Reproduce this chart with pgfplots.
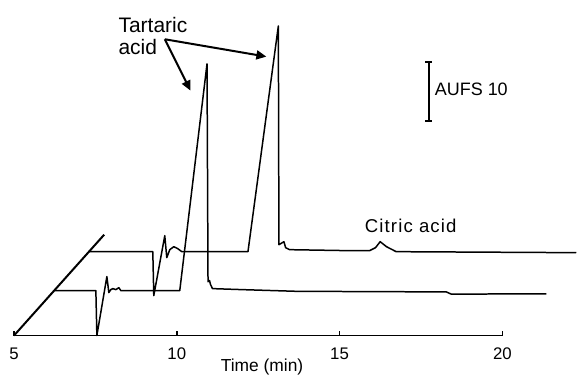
\documentclass[border=0pt]{standalone}
\usepackage{fontspec}
\setmainfont{Liberation Sans}
\usepackage{pgfplots}
\pgfplotsset{compat=1.18}
\usetikzlibrary{arrows.meta}
\begin{document}
\begin{tikzpicture}
\begin{axis}[
 x=16.3pt, y=0.5pt,
 xmin=5, xmax=20, ymin=0, ymax=336,
 clip=false,
 axis x line*=bottom, axis y line=none,
 xtick={5,10,15,20},
 ytick=\empty,
 tick align=inside,
 major tick length=2.5pt,
 x axis line style={line width=0.8pt},
 xtick style={line width=0.8pt, black},
 xticklabel style={font=\fontsize{8.4}{10}\selectfont, yshift=-2.5pt},
 /pgf/number format/assume math mode=true,
]
% offset baseline (diagonal)
\addplot[black, line width=1pt] coordinates {(5,0) (7.77,101)};
% lower trace
\addplot[black, line width=0.75pt, line join=round] coordinates {
(6.23,45) (7.515,45) (7.546,0) (7.853,59) (7.914,43) (7.975,46) (8.037,47)
(8.129,46) (8.221,48) (8.282,45) (10.092,45) (10.929,272) (10.960,54)
(11.006,55) (11.037,51) (11.098,47) (12.0,46) (13.68,44.3) (18.28,43.7)
(18.43,41.5) (21.35,41.8)};
% upper trace
\addplot[black, line width=0.75pt, line join=round] coordinates {
(7.316,84) (9.264,84) (9.294,40) (9.632,100) (9.693,78) (9.785,86) (9.908,89)
(10.031,87) (10.153,84) (12.187,84) (13.12,310) (13.138,91) (13.291,94)
(13.344,88) (13.466,86) (15.307,85) (15.92,85) (16.104,88) (16.248,94)
(16.441,89) (16.739,84) (22.27,83)};
% annotations
\node[anchor=base west, inner sep=0, font=\fontsize{10.5}{12}\selectfont] at (axis cs:8.199,303.7) {Tartaric};
\node[anchor=base west, inner sep=0, font=\fontsize{10.5}{12}\selectfont] at (axis cs:8.199,281) {acid};
\draw[line width=1pt, -{Triangle[length=5pt,width=4.5pt]}] (axis cs:9.632,296.7) -- (axis cs:10.42,245.3);
\draw[line width=1pt, -{Triangle[length=5pt,width=4.5pt]}] (axis cs:9.632,296.7) -- (axis cs:12.752,279.3);
\draw[line width=1pt] (axis cs:17.739,215.3) -- (axis cs:17.739,274.3);
\draw[line width=1pt] (axis cs:17.632,274.3) -- (axis cs:17.846,274.3);
\draw[line width=1pt] (axis cs:17.632,215.3) -- (axis cs:17.846,215.3);
\node[anchor=base west, inner sep=0, font=\fontsize{9}{11}\selectfont] at (axis cs:17.914,240.3) {AUFS 10};
\node[anchor=base west, inner sep=0, font=\fontsize{9.3}{11}\selectfont\addfontfeature{LetterSpace=6}] at (axis cs:15.767,102.7) {Citric acid};
\node[anchor=base, inner sep=0, font=\fontsize{8.7}{10}\selectfont] at (axis cs:12.62,-35.7) {Time (min)};
\path (axis cs:4.5706,-38) rectangle (axis cs:22.27,336);
\end{axis}
\end{tikzpicture}
\end{document}
